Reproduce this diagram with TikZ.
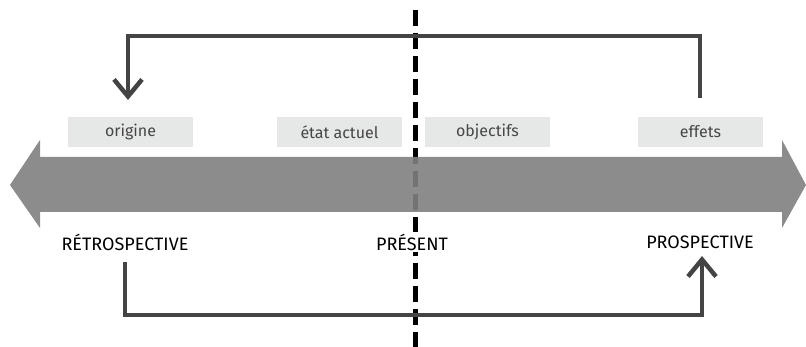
\documentclass[tikz,border=0pt]{standalone}
\usepackage{fontspec}
\setmainfont{Fira Sans}
\usetikzlibrary{arrows.meta}
\definecolor{bigarrow}{RGB}{128,128,128}
\definecolor{conn}{RGB}{68,68,68}
\definecolor{boxfill}{RGB}{230,231,231}
\definecolor{boxtext}{RGB}{70,70,70}
\tikzset{
  labelbox/.style={fill=boxfill, minimum width=125pt, minimum height=30pt, inner sep=0pt, text=boxtext, font=\fontsize{16}{18}\selectfont},
  timelabel/.style={text=black, font=\fontsize{18}{20}\selectfont, inner sep=2pt},
  connector/.style={draw=conn, line width=4.5pt, line join=miter},
  chevron/.style={-{Straight Barb[length=17pt,width=28pt,line width=4.5pt]}},
  presline/.style={draw=black, line width=5pt, dash pattern=on 16pt off 7pt}
}
\begin{document}
\begin{tikzpicture}[x=1pt,y=-1pt]
\useasboundingbox (0,0) rectangle (806,347);
% dashed present line
\coordinate (dtop) at (415,10);
\coordinate (dbot) at (415,347);
\draw[presline] (dtop) -- (dbot);
% big double arrow
\fill[bigarrow, opacity=0.9] (10,185) -- (40,140) -- (40,157) -- (782,157) -- (782,140) -- (806,185) -- (782,228) -- (782,212) -- (40,212) -- (40,228) -- cycle;
% boxes
\node[labelbox] (origine) at (130.5,132) {origine};
\node[labelbox] (etat) at (339.5,132) {état actuel};
\node[labelbox] (obj) at (487.5,132) {objectifs};
\node[labelbox] (effets) at (700.5,132) {effets};
% labels
\node[timelabel] (retro) at (125,242) {RÉTROSPECTIVE};
\node[timelabel, fill=white] (present) at (412,242) {PRÉSENT};
\node[timelabel] (prosp) at (700,242) {PROSPECTIVE};
% connectors
\coordinate (topstart) at (700,98);
\coordinate (topend) at (128,100);
\draw[connector, chevron] (topstart) -- (700,36) -- (128,36) -- (topend);
\coordinate (botstart) at (125,262);
\coordinate (botend) at (702,256);
\draw[connector, chevron] (botstart) -- (125,315) -- (702,315) -- (botend);
\end{tikzpicture}
\end{document}
